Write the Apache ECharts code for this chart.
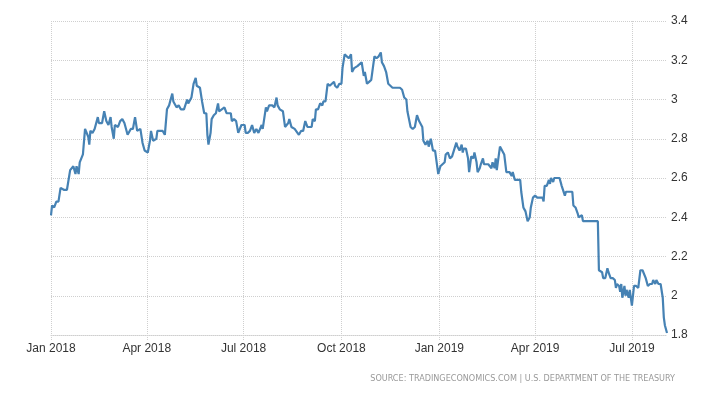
<!DOCTYPE html>
<html>
<head>
<meta charset="utf-8">
<script src="https://cdn.jsdelivr.net/npm/echarts@6/dist/echarts.min.js"></script>
<style>
    html, body { margin: 0; padding: 0; background: #fff; }
    #chart { width: 720px; height: 395px; }
</style>
</head>
<body>
<div id="chart"></div>
<script>
// x axis ticks (quarter starts)
var tickDates = ['2018-01-01', '2018-04-01', '2018-07-01', '2018-10-01', '2019-01-01', '2019-04-01', '2019-07-01'];
var tickLabels = ['Jan 2018', 'Apr 2018', 'Jul 2018', 'Oct 2018', 'Jan 2019', 'Apr 2019', 'Jul 2019'];

// 10 year yield
var dates2018 = [
    '2018-01-01','2018-01-02','2018-01-04','2018-01-06','2018-01-08','2018-01-10','2018-01-11','2018-01-13','2018-01-16','2018-01-19',
    '2018-01-22','2018-01-24','2018-01-25','2018-01-27','2018-01-28','2018-01-29','2018-01-31','2018-02-01','2018-02-02','2018-02-05',
    '2018-02-06','2018-02-07','2018-02-09','2018-02-11','2018-02-12','2018-02-14','2018-02-15','2018-02-18','2018-02-20','2018-02-22',
    '2018-02-24','2018-02-26','2018-02-27','2018-03-01','2018-03-02','2018-03-05','2018-03-07','2018-03-09','2018-03-11','2018-03-14',
    '2018-03-17','2018-03-19','2018-03-21','2018-03-23','2018-03-26','2018-03-28','2018-03-30','2018-04-02','2018-04-04','2018-04-05',
    '2018-04-07','2018-04-10','2018-04-11','2018-04-16','2018-04-18','2018-04-20','2018-04-22','2018-04-25','2018-04-26','2018-04-29',
    '2018-04-30','2018-05-01','2018-05-03','2018-05-06','2018-05-09','2018-05-10','2018-05-13','2018-05-15','2018-05-17','2018-05-18',
    '2018-05-21','2018-05-23','2018-05-25','2018-05-27','2018-05-28','2018-05-29','2018-05-31','2018-06-01','2018-06-03','2018-06-05',
    '2018-06-06','2018-06-07','2018-06-08','2018-06-13','2018-06-15','2018-06-19','2018-06-20','2018-06-22','2018-06-24','2018-06-26',
    '2018-06-29','2018-07-02','2018-07-03','2018-07-05','2018-07-07','2018-07-09','2018-07-11','2018-07-13','2018-07-15','2018-07-18',
    '2018-07-19','2018-07-22','2018-07-23','2018-07-25','2018-07-28','2018-07-30','2018-08-01','2018-08-02','2018-08-04','2018-08-07',
    '2018-08-08','2018-08-09','2018-08-12','2018-08-13','2018-08-15','2018-08-16','2018-08-18','2018-08-19','2018-08-22','2018-08-24',
    '2018-08-26','2018-08-28','2018-08-30','2018-09-03','2018-09-04','2018-09-06','2018-09-07','2018-09-09','2018-09-11','2018-09-13',
    '2018-09-14','2018-09-16','2018-09-18','2018-09-20','2018-09-22','2018-09-24','2018-09-25','2018-09-27','2018-09-29','2018-10-01',
    '2018-10-02','2018-10-04','2018-10-06','2018-10-08','2018-10-10','2018-10-11','2018-10-13','2018-10-14','2018-10-16','2018-10-17',
    '2018-10-20','2018-10-21','2018-10-22','2018-10-23','2018-10-25','2018-10-27','2018-10-29','2018-10-30','2018-11-01','2018-11-03',
    '2018-11-05','2018-11-07','2018-11-08','2018-11-10','2018-11-12','2018-11-14','2018-11-16','2018-11-18','2018-11-20','2018-11-22',
    '2018-11-25','2018-11-27','2018-11-29','2018-12-01','2018-12-02','2018-12-05','2018-12-07','2018-12-09','2018-12-11','2018-12-13',
    '2018-12-16','2018-12-17','2018-12-19','2018-12-21','2018-12-22','2018-12-24','2018-12-26','2018-12-28','2018-12-31'
];
var yields2018 = [
    2.41, 2.46, 2.45, 2.48, 2.48, 2.55, 2.55, 2.54, 2.54, 2.64,
    2.66, 2.62, 2.66, 2.62, 2.68, 2.69, 2.72, 2.72, 2.85, 2.81,
    2.77, 2.84, 2.83, 2.85, 2.84, 2.91, 2.88, 2.88, 2.94, 2.89,
    2.87, 2.91, 2.86, 2.80, 2.87, 2.86, 2.89, 2.90, 2.88, 2.82,
    2.85, 2.85, 2.91, 2.84, 2.85, 2.78, 2.74, 2.73, 2.79, 2.84,
    2.79, 2.80, 2.84, 2.84, 2.82, 2.95, 2.97, 3.03, 2.99, 2.96,
    2.95, 2.97, 2.95, 2.95, 3.00, 2.98, 3.01, 3.08, 3.11, 3.07,
    3.06, 2.99, 2.93, 2.93, 2.82, 2.77, 2.83, 2.90, 2.92, 2.93,
    2.92, 2.98, 2.94, 2.96, 2.93, 2.93, 2.89, 2.90, 2.89, 2.83,
    2.87, 2.87, 2.83, 2.83, 2.84, 2.87, 2.83, 2.85, 2.83, 2.87,
    2.85, 2.96, 2.94, 2.97, 2.97, 2.96, 3.01, 2.97, 2.95, 2.94,
    2.90, 2.86, 2.88, 2.90, 2.86, 2.87, 2.85, 2.84, 2.82, 2.84,
    2.84, 2.89, 2.86, 2.86, 2.90, 2.89, 2.95, 2.95, 2.98, 2.97,
    2.99, 2.99, 3.08, 3.07, 3.08, 3.09, 3.07, 3.06, 3.08, 3.08,
    3.16, 3.23, 3.22, 3.21, 3.23, 3.14, 3.16, 3.15, 3.17, 3.18,
    3.19, 3.20, 3.12, 3.14, 3.08, 3.09, 3.10, 3.14, 3.22, 3.21,
    3.22, 3.24, 3.19, 3.17, 3.14, 3.08, 3.07, 3.06, 3.06, 3.06,
    3.06, 3.05, 3.01, 3.00, 2.94, 2.86, 2.85, 2.86, 2.92, 2.89,
    2.86, 2.79, 2.77, 2.79, 2.76, 2.80, 2.74, 2.74, 2.62
];
var dates2019 = [
    '2019-01-02','2019-01-04','2019-01-06','2019-01-07','2019-01-09','2019-01-11','2019-01-13','2019-01-14','2019-01-17','2019-01-18',
    '2019-01-20','2019-01-22','2019-01-23','2019-01-24','2019-01-26','2019-01-28','2019-01-29','2019-01-31','2019-02-02','2019-02-03',
    '2019-02-05','2019-02-06','2019-02-08','2019-02-09','2019-02-11','2019-02-12','2019-02-16','2019-02-17','2019-02-19','2019-02-20',
    '2019-02-22','2019-02-23','2019-02-24','2019-02-27','2019-03-01','2019-03-03','2019-03-05','2019-03-06','2019-03-08','2019-03-10',
    '2019-03-11','2019-03-13','2019-03-14','2019-03-16','2019-03-18','2019-03-19','2019-03-21','2019-03-23','2019-03-25','2019-03-27',
    '2019-03-28','2019-03-30','2019-04-01','2019-04-03','2019-04-05','2019-04-08','2019-04-09','2019-04-10','2019-04-12','2019-04-14',
    '2019-04-15','2019-04-16','2019-04-18','2019-04-19','2019-04-24','2019-04-26','2019-04-29','2019-04-30','2019-05-06','2019-05-07',
    '2019-05-09','2019-05-11','2019-05-12','2019-05-13','2019-05-15','2019-05-16','2019-05-30','2019-05-31','2019-06-01','2019-06-03',
    '2019-06-04','2019-06-06','2019-06-08','2019-06-09','2019-06-11','2019-06-13','2019-06-15','2019-06-16','2019-06-17','2019-06-19',
    '2019-06-20','2019-06-21','2019-06-22','2019-06-24','2019-06-25','2019-06-26','2019-06-28','2019-06-29','2019-07-01','2019-07-03',
    '2019-07-05','2019-07-07','2019-07-09','2019-07-11','2019-07-12','2019-07-14','2019-07-16','2019-07-18','2019-07-20','2019-07-21',
    '2019-07-23','2019-07-24','2019-07-26','2019-07-28','2019-07-30','2019-07-31','2019-08-01','2019-08-03'
];
var yields2019 = [
    2.66, 2.67, 2.68, 2.72, 2.73, 2.70, 2.71, 2.71, 2.78, 2.76,
    2.74, 2.77, 2.73, 2.75, 2.75, 2.70, 2.63, 2.71, 2.70, 2.73,
    2.68, 2.63, 2.65, 2.67, 2.70, 2.67, 2.67, 2.66, 2.65, 2.68,
    2.65, 2.70, 2.64, 2.76, 2.74, 2.72, 2.63, 2.62, 2.63, 2.61,
    2.63, 2.59, 2.60, 2.59, 2.59, 2.53, 2.45, 2.43, 2.38, 2.40,
    2.45, 2.50, 2.51, 2.50, 2.50, 2.50, 2.48, 2.56, 2.56, 2.59,
    2.57, 2.60, 2.58, 2.60, 2.60, 2.56, 2.51, 2.53, 2.53, 2.46,
    2.45, 2.42, 2.40, 2.39, 2.41, 2.38, 2.38, 2.13, 2.12, 2.12,
    2.09, 2.09, 2.14, 2.12, 2.09, 2.09, 2.08, 2.04, 2.06, 2.05,
    2.02, 2.06, 1.99, 2.05, 2.00, 2.03, 1.99, 2.03, 1.95, 2.05,
    2.05, 2.04, 2.13, 2.13, 2.13, 2.09, 2.05, 2.06, 2.06, 2.08,
    2.06, 2.08, 2.06, 2.06, 1.99, 1.89, 1.85, 1.81
];

var rangeStart = '2018-01-01';
var rangeEnd = '2019-08-03';
var sourceText = 'SOURCE: TRADINGECONOMICS.COM | U.S. DEPARTMENT OF THE TREASURY';

var YieldChart = {
    dom: 'chart',
    labelFont: 'Liberation Sans, Arial, sans-serif',

    _ts: function (str) {
        return +echarts.time.parse(str);
    },

    _buildSeriesData: function () {
        var data = [];
        var allDates = dates2018.concat(dates2019);
        var allValues = yields2018.concat(yields2019);
        for (var i = 0; i < allDates.length; i++) {
            data.push([this._ts(allDates[i]), allValues[i]]);
        }
        return data;
    },

    _tickValues: function () {
        var list = [];
        for (var i = 0; i < tickDates.length; i++) {
            list.push(this._ts(tickDates[i]));
        }
        return list;
    },

    _tickLabel: function (value) {
        for (var i = 0; i < tickDates.length; i++) {
            if (Math.abs(this._ts(tickDates[i]) - value) < 1000) {
                return tickLabels[i];
            }
        }
        return '';
    },

    render: function () {
        var _this = this;
        var ticks = this._tickValues();
        var myChart = echarts.init(document.getElementById(this.dom));
        var dotted = { color: '#cfcfcf', type: [1, 1], width: 1 };

        myChart.setOption({
            animation: false,
            backgroundColor: '#ffffff',
            grid: { left: 51, right: 53, top: 21, bottom: 60 },
            xAxis: {
                type: 'value',
                min: this._ts(rangeStart),
                max: this._ts(rangeEnd),
                axisLine: { show: true, lineStyle: dotted },
                axisTick: { show: true, length: 5, customValues: ticks, lineStyle: dotted },
                splitLine: { show: true, lineStyle: dotted },
                axisLabel: {
                    customValues: ticks,
                    margin: 8,
                    fontSize: 12,
                    color: '#333',
                    fontFamily: _this.labelFont,
                    formatter: function (value) {
                        return _this._tickLabel(value);
                    }
                }
            },
            yAxis: {
                type: 'value',
                position: 'right',
                min: 1.8,
                max: 3.4,
                interval: 0.2,
                axisLine: { show: false },
                axisTick: { show: false },
                splitLine: { show: true, lineStyle: dotted },
                axisLabel: {
                    margin: 4,
                    fontSize: 12,
                    color: '#333',
                    fontFamily: _this.labelFont
                }
            },
            series: [{
                type: 'line',
                data: this._buildSeriesData(),
                showSymbol: false,
                symbol: 'none',
                lineStyle: { color: '#4682b4', width: 2.2 },
                itemStyle: { color: '#4682b4' }
            }],
            graphic: [{
                type: 'text',
                right: 45,
                top: 374,
                style: {
                    text: sourceText,
                    fill: '#999',
                    font: '9px "Liberation Sans Narrow", "DejaVu Sans Condensed", sans-serif'
                }
            }]
        });
    }
};

YieldChart.render();
</script>
</body>
</html>
